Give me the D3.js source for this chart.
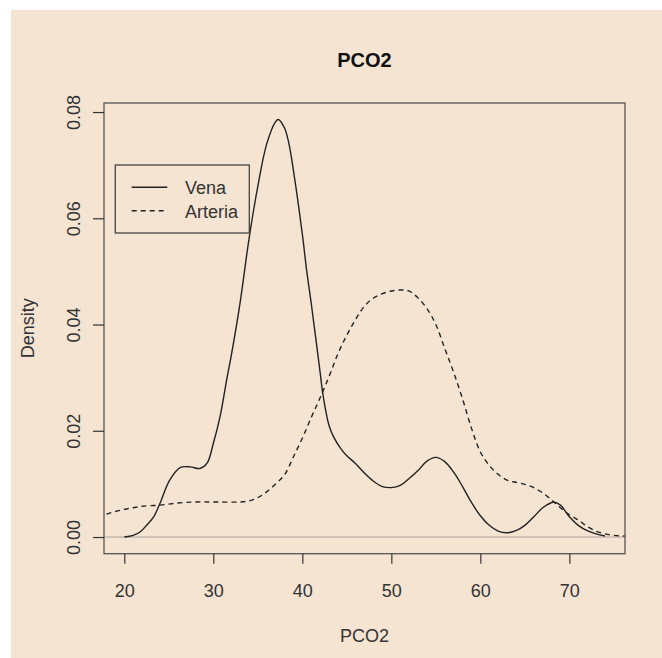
<!DOCTYPE html>
<html>
<head>
<meta charset="utf-8">
<script src="https://cdn.jsdelivr.net/npm/d3@7"></script>
<style>
  html, body { margin: 0; padding: 0; background: #ffffff; }
  svg { display: block; }
  text { font-family: "Liberation Sans", Arial, sans-serif; }
</style>
</head>
<body>
<svg id="chart" width="662" height="658"></svg>
<script>
// ---- data ----
const title = "PCO2";
const xLabel = "PCO2";
const yLabel = "Density";
const seriesNames = ["Vena", "Arteria"];

const venaX = [20,21,21.8,22.5,23.3,24,25.1,26.3,27.4,28.5,29.3,30,30.75,31.5,32,33,34,35,36,37,37.3,38,38.5,39,40,40.5,41,42,42.3,43,43.5,44.3,45,46,47,48,49,50,51,52,53,54,55,56,57,58,59,60,61,62,63,64,65,66,67,68,68.2,69,70,71,72,73,74];
const venaY = [0,0.0003,0.0010,0.0022,0.0038,0.0063,0.0107,0.0131,0.0132,0.0129,0.0139,0.0176,0.0226,0.0296,0.034,0.044,0.056,0.066,0.074,0.0782,0.0786,0.077,0.074,0.069,0.057,0.050,0.044,0.031,0.027,0.021,0.0189,0.0167,0.0153,0.0138,0.012,0.0105,0.0095,0.0093,0.0097,0.011,0.0125,0.0143,0.015,0.0142,0.0122,0.0095,0.0065,0.0040,0.0022,0.0011,0.0008,0.0012,0.0022,0.0038,0.0055,0.0065,0.0066,0.006,0.0038,0.0022,0.0012,0.0006,0.0002];

const arteriaX = [18,19,20,21,22,24,26,28,30,33,34,35,36,37,38,39,40,41,42,43,44,45,46,47,48,49,50,51,52,53,54,55,56,57,58,59,60,61,62,63,64,65,66,67,68,69,70,71,72,73,74,75,76,77];
const arteriaY = [0.0043,0.0048,0.0052,0.0055,0.0058,0.0060,0.0064,0.0066,0.0066,0.0066,0.0068,0.0074,0.0085,0.0100,0.0117,0.0151,0.0186,0.0225,0.0262,0.0302,0.0345,0.038,0.041,0.0435,0.045,0.0458,0.0463,0.0465,0.0463,0.045,0.043,0.040,0.0355,0.031,0.026,0.0205,0.016,0.0135,0.0118,0.0107,0.0103,0.0099,0.0093,0.0083,0.007,0.0055,0.0042,0.0032,0.002,0.0011,0.0006,0.0003,0.0002,0.0001];

const xTicks = [20,30,40,50,60,70];
const yTicks = [0,0.02,0.04,0.06,0.08];

// ---- layout ----
const svg = d3.select("#chart");
const bg = "#f5e4d2";
const ink = "#222222";
const plot = {left: 104, top: 103, right: 625, bottom: 553.7};

svg.append("rect").attr("x", 11).attr("y", 10).attr("width", 662 - 11).attr("height", 658 - 10).attr("fill", bg);

const x = d3.scaleLinear().domain([17.72, 76.25]).range([plot.left, plot.right]);
const y = d3.scaleLinear().domain([-0.00314, 0.0817]).range([plot.bottom, plot.top]);

svg.append("defs").append("clipPath").attr("id", "clip")
  .append("rect").attr("x", plot.left).attr("y", plot.top)
  .attr("width", plot.right - plot.left).attr("height", plot.bottom - plot.top);

// zero line
svg.append("line")
  .attr("x1", plot.left).attr("x2", plot.right)
  .attr("y1", y(0)).attr("y2", y(0))
  .attr("stroke", "#c4bab0").attr("stroke-width", 1.5);

const line = d3.line().x(d => x(d[0])).y(d => y(d[1])).curve(d3.curveCatmullRom.alpha(0.5));
const venaData = venaX.map((v, i) => [v, venaY[i]]);
const arteriaData = arteriaX.map((v, i) => [v, arteriaY[i]]);

const g = svg.append("g").attr("clip-path", "url(#clip)");
g.append("path").attr("d", line(venaData)).attr("fill", "none")
  .attr("stroke", ink).attr("stroke-width", 1.4);
g.append("path").attr("d", line(arteriaData)).attr("fill", "none")
  .attr("stroke", ink).attr("stroke-width", 1.4).attr("stroke-dasharray", "5,4");

// box
svg.append("rect").attr("x", plot.left).attr("y", plot.top)
  .attr("width", plot.right - plot.left).attr("height", plot.bottom - plot.top)
  .attr("fill", "none").attr("stroke", "#555").attr("stroke-width", 1.3);

// axes
const xAxis = svg.append("g").attr("transform", `translate(0,${plot.bottom})`)
  .call(d3.axisBottom(x).tickValues(xTicks).tickSize(10).tickSizeOuter(0).tickFormat(d3.format("d")));
xAxis.select(".domain").remove();
xAxis.selectAll(".tick line").attr("stroke", "#333").attr("stroke-width", 1.2);
xAxis.selectAll(".tick text").attr("y", 43).attr("dy", null)
  .attr("font-size", 18).attr("fill", "#333").attr("font-family", "Liberation Sans, Arial, sans-serif");

const yAxis = svg.append("g").attr("transform", `translate(${plot.left},0)`)
  .call(d3.axisLeft(y).tickValues(yTicks).tickSize(11).tickSizeOuter(0).tickFormat(d3.format(".2f")));
yAxis.select(".domain").remove();
yAxis.selectAll(".tick line").attr("stroke", "#333").attr("stroke-width", 1.2);
yAxis.selectAll(".tick text")
  .attr("x", null).attr("dy", null)
  .attr("transform", "translate(-24,0) rotate(-90)")
  .attr("text-anchor", "middle")
  .attr("font-size", 18).attr("fill", "#333").attr("font-family", "Liberation Sans, Arial, sans-serif");

// titles
svg.append("text").attr("x", 364.5).attr("y", 67).attr("text-anchor", "middle")
  .attr("font-size", 20).attr("font-weight", "bold").attr("fill", "#111").text(title);
svg.append("text").attr("x", 364.5).attr("y", 642).attr("text-anchor", "middle")
  .attr("font-size", 18).attr("fill", "#333").text(xLabel);
svg.append("text").attr("transform", `translate(34,${(plot.top + plot.bottom) / 2}) rotate(-90)`)
  .attr("text-anchor", "middle").attr("font-size", 18).attr("fill", "#333").text(yLabel);

// legend
const lg = svg.append("g");
lg.append("rect").attr("x", 115.3).attr("y", 165).attr("width", 134).attr("height", 68)
  .attr("fill", "none").attr("stroke", "#444").attr("stroke-width", 1.3);
const dashes = [null, "5,4"];
seriesNames.forEach((name, i) => {
  const yy = 187.3 + i * 23.4;
  lg.append("line").attr("x1", 131.7).attr("x2", 167.3).attr("y1", yy).attr("y2", yy)
    .attr("stroke", ink).attr("stroke-width", 1.4).attr("stroke-dasharray", dashes[i]);
  lg.append("text").attr("x", 185).attr("y", yy + 7).attr("font-size", 18).attr("fill", "#333").text(name);
});
</script>
</body>
</html>
